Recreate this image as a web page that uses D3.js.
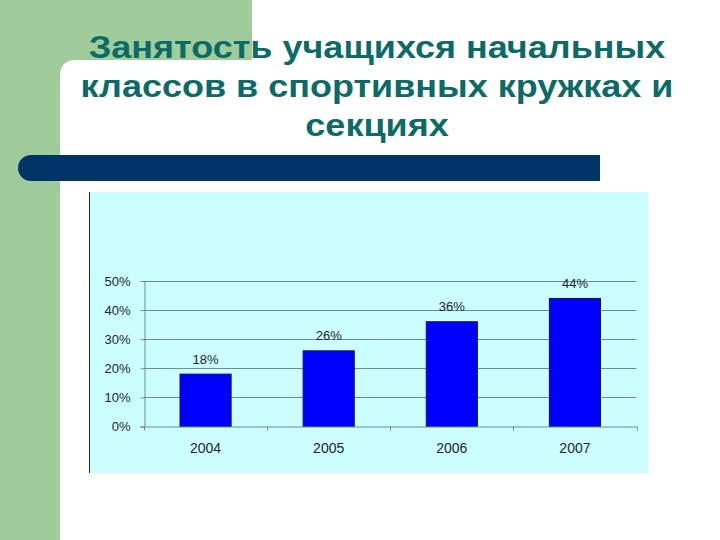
<!DOCTYPE html>
<html><head><meta charset="utf-8">
<script src="https://cdn.jsdelivr.net/npm/d3@7"></script>
<style>html,body{margin:0;padding:0;background:#fff;}svg{display:block;}</style>
</head><body>
<script>
const titleLines = ["Занятость учащихся начальных", "классов в спортивных кружках и", "секциях"];
const categories = ["2004", "2005", "2006", "2007"];
const values = [0.18, 0.26, 0.36, 0.44];
const yTicks = [0, 0.1, 0.2, 0.3, 0.4, 0.5];

const W = 720, H = 540;
const svg = d3.select("body").append("svg").attr("width", W).attr("height", H);

// background decoration
svg.append("rect").attr("x", 0).attr("y", 0).attr("width", W).attr("height", H).attr("fill", "#ffffff");
svg.append("rect").attr("x", 0).attr("y", 0).attr("width", 252).attr("height", 80).attr("fill", "#9fcc9a");
svg.append("rect").attr("x", 0).attr("y", 0).attr("width", 60).attr("height", H).attr("fill", "#9fcc9a");
svg.append("path").attr("d", "M60,540 L60,76 Q60,60 76,60 L252,60 L252,80 L60,80 Z").attr("fill", "#ffffff");
svg.append("rect").attr("x", 60).attr("y", 76).attr("width", 200).attr("height", 464).attr("fill", "#ffffff");

// dark bar
svg.append("path").attr("d", "M600,155 L31,155 A13,13 0 0 0 31,181 L600,181 Z").attr("fill", "#003366");

// title
const title = svg.append("g").attr("transform", "translate(377,0) scale(1.125,1)")
  .append("text").attr("text-anchor", "middle")
  .attr("font-family", "Liberation Sans, Arial, sans-serif").attr("font-weight", "bold")
  .attr("font-size", 32).attr("fill", "#0c6b66");
titleLines.forEach((t, i) => {
  title.append("tspan").attr("x", 0).attr("y", 58 + i * 39).text(t);
});

// chart area
svg.append("rect").attr("x", 90).attr("y", 192).attr("width", 558).attr("height", 281).attr("fill", "#ccffff");
svg.append("line").attr("x1", 89.5).attr("x2", 89.5).attr("y1", 192).attr("y2", 473).attr("stroke", "#222").attr("stroke-width", 1);

const x = d3.scaleBand().domain(categories).range([144, 636.5]).paddingInner(0.585).paddingOuter(0.2925);
const y = d3.scaleLinear().domain([0, 0.5]).range([426.5, 281]);

const fontF = "Liberation Sans, Arial, sans-serif";
const gridC = "#6f8c8c";

// gridlines
svg.append("g").selectAll("line").data(yTicks.slice(1)).join("line")
  .attr("x1", 144).attr("x2", 636.5)
  .attr("y1", d => Math.round(y(d)) + 0.5).attr("y2", d => Math.round(y(d)) + 0.5)
  .attr("stroke", gridC).attr("stroke-width", 1);

// y axis
const yAxis = svg.append("g").attr("transform", "translate(144.5,0)")
  .call(d3.axisLeft(y).tickValues(yTicks).tickFormat(d3.format(".0%")).tickSize(4).tickPadding(10));
yAxis.select(".domain").attr("stroke", gridC);
yAxis.selectAll(".tick line").attr("stroke", gridC);
yAxis.selectAll("text").attr("font-family", fontF).attr("font-size", 13).attr("fill", "#1e2430");

// bars
svg.append("g").selectAll("rect").data(values).join("rect")
  .attr("x", (d, i) => x(categories[i]))
  .attr("y", d => y(d))
  .attr("width", x.bandwidth())
  .attr("height", d => y(0) - y(d))
  .attr("fill", "#0000ff").attr("stroke", "#10105a").attr("stroke-width", 1);

// x axis
const xAxis = svg.append("g").attr("transform", "translate(0,426.5)")
  .call(d3.axisBottom(x).tickSize(0).tickPadding(17));
xAxis.select(".domain").attr("stroke", gridC);
xAxis.selectAll("text").attr("font-family", fontF).attr("font-size", 14).attr("fill", "#1e2430");
// boundary ticks
const bounds = d3.range(categories.length + 1).map(i => 144 + i * (636.5 - 144) / categories.length);
svg.append("g").selectAll("line").data(bounds).join("line")
  .attr("x1", d => Math.round(d) + 0.5).attr("x2", d => Math.round(d) + 0.5)
  .attr("y1", 426.5).attr("y2", 430.5).attr("stroke", gridC);

// value labels
svg.append("g").selectAll("text").data(values).join("text")
  .attr("x", (d, i) => x(categories[i]) + x.bandwidth() / 2)
  .attr("y", d => y(d) - 10.5)
  .attr("text-anchor", "middle").attr("font-family", fontF).attr("font-size", 13).attr("fill", "#1e2430")
  .text(d => d3.format(".0%")(d));
</script>
</body></html>
